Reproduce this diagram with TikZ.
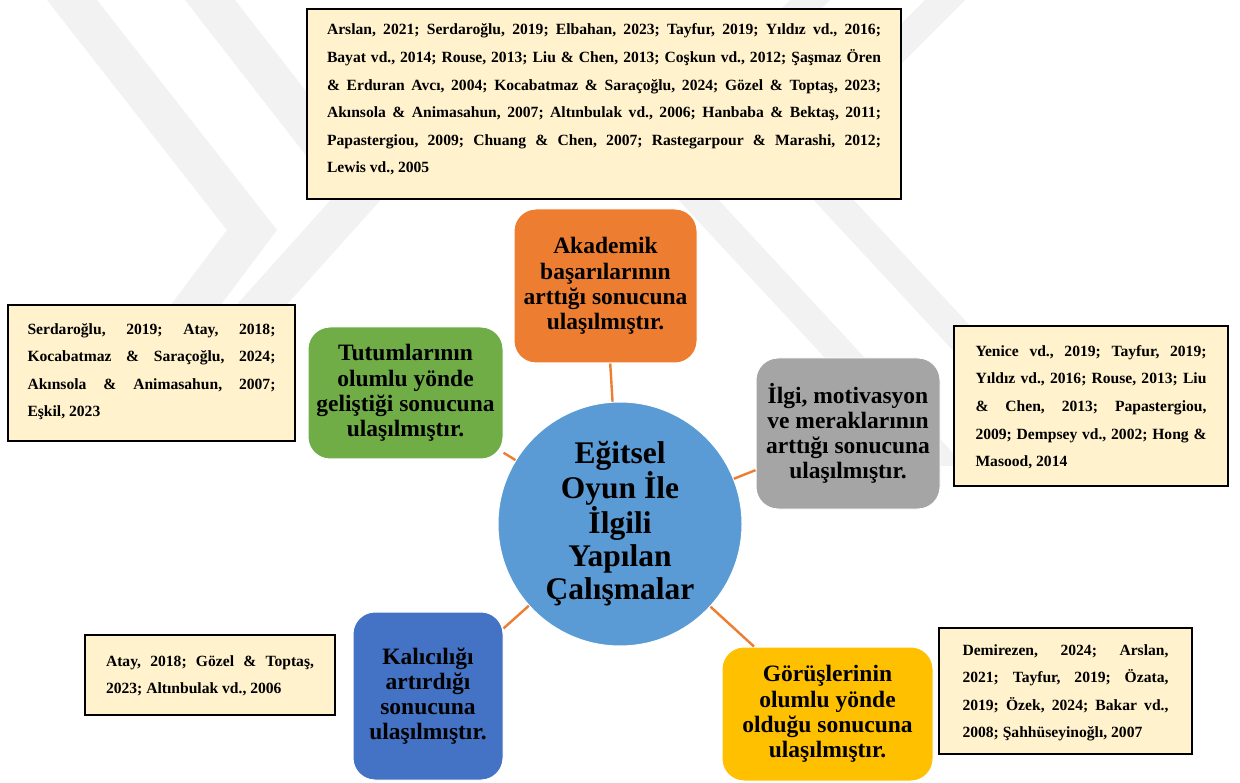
\documentclass[tikz,border=0pt]{standalone}
\usepackage{fontspec}
\setmainfont{Liberation Serif}
\definecolor{cream}{RGB}{255,242,204}
\definecolor{corange}{RGB}{237,125,49}
\definecolor{cgreen}{RGB}{112,173,71}
\definecolor{cgray}{RGB}{165,165,165}
\definecolor{cblue}{RGB}{68,114,196}
\definecolor{cyellow}{RGB}{255,192,0}
\definecolor{ccircle}{RGB}{91,155,213}
\definecolor{wm}{RGB}{242,242,242}
\newcommand\jl[2]{\makebox[#1][s]{#2}}
\newcommand\topstrut{\rule{0pt}{15pt}}
\newcommand\botstrut[1]{\rule[-#1pt]{0pt}{#1pt}}
\begin{document}
\begin{tikzpicture}[x=1pt,y=-1pt,
  refbox/.style={draw=black, line width=2.6pt, fill=cream, inner sep=0pt,
    align=left, font=\bfseries\frenchspacing\fontsize{15.6}{27.6}\selectfont,
    execute at begin node={\spaceskip=0.25em plus 1em minus 0.03em\relax\xspaceskip=\spaceskip}},
  cbox/.style={rounded corners=22pt, draw=white, line width=1pt, inner sep=0pt,
    align=center, text=black, font=\bfseries\fontsize{23.5}{25.2}\selectfont,
    execute at begin node={\spaceskip=0.25em\relax\xspaceskip=\spaceskip}},
  conn/.style={draw=corange, line width=2.4pt},
  wmark/.style={fill=wm, draw=none}]
\useasboundingbox (0,0) rectangle (1240,783);
\fill[white] (0,0) rectangle (1240,783);
% watermark
\fill[wmark] (47,0) -- (97,0) -- (277,230) -- (194.5,340) -- (144.5,340) -- (227,230) -- cycle;
\fill[wmark] (185,0) -- (235,0) -- (386,194) -- (255,340) -- (205,340) -- (336,194) -- cycle;
\fill[wmark] (925,0) -- (965,0) -- (811,154) -- (1100,466) -- (1060,466) -- (771,154) -- cycle;
\fill[wmark] (790,0) -- (830,0) -- (676,154) -- (965,466) -- (925,466) -- (636,154) -- cycle;
% reference boxes
\node[refbox, text width=554pt, minimum width=594pt, minimum height=190pt] (rtop) at (604,104)
 {\topstrut\jl{554pt}{Arslan, 2021; Serdaroğlu, 2019; Elbahan, 2023; Tayfur, 2019; Yıldız vd., 2016;}\\
  \jl{554pt}{Bayat vd., 2014; Rouse, 2013; Liu \& Chen, 2013; Coşkun vd., 2012; Şaşmaz Ören}\\
  \jl{554pt}{\& Erduran Avcı, 2004; Kocabatmaz \& Saraçoğlu, 2024; Gözel \& Toptaş, 2023;}\\
  \jl{554pt}{Akınsola \& Animasahun, 2007; Altınbulak vd., 2006; Hanbaba \& Bektaş, 2011;}\\
  \jl{554pt}{Papastergiou, 2009; Chuang \& Chen, 2007; Rastegarpour \& Marashi, 2012;}\\
  Lewis vd., 2005\botstrut{15}};
\node[refbox, text width=248pt, minimum width=287pt, minimum height=136pt] (rleft) at (151.5,373)
 {\topstrut\jl{248pt}{Serdaroğlu, 2019; Atay, 2018;}\\
  \jl{248pt}{Kocabatmaz \& Saraçoğlu, 2024;}\\
  \jl{248pt}{Akınsola \& Animasahun, 2007;}\\
  Eşkil, 2023\botstrut{10}};
\node[refbox, text width=231pt, minimum width=274pt, minimum height=160pt] (rright) at (1091,406)
 {\topstrut\jl{231pt}{Yenice vd., 2019; Tayfur, 2019;}\\
  \jl{231pt}{Yıldız vd., 2016; Rouse, 2013; Liu}\\
  \jl{231pt}{\& Chen, 2013; Papastergiou,}\\
  \jl{231pt}{2009; Dempsey vd., 2002; Hong \&}\\
  Masood, 2014\botstrut{4}};
\node[refbox, text width=208pt, minimum width=250pt, minimum height=80pt] (rbl) at (210,675)
 {\topstrut\jl{208pt}{Atay, 2018; Gözel \& Toptaş,}\\
  2023; Altınbulak vd., 2006\botstrut{5}};
\node[refbox, text width=206pt, minimum width=253pt, minimum height=126pt] (rbr) at (1065.5,691)
 {\topstrut\jl{206pt}{Demirezen, 2024; Arslan,}\\
  \jl{206pt}{2021; Tayfur, 2019; Özata,}\\
  \jl{206pt}{2019; Özek, 2024; Bakar vd.,}\\
  2008; Şahhüseyinoğlı, 2007\botstrut{4}};
% centre
\node[circle, fill=ccircle, draw=white, line width=1pt, minimum size=244pt, inner sep=0pt,
  align=center, font=\bfseries\fontsize{31.5}{33}\selectfont,
  execute at begin node={\spaceskip=0.25em\relax}] (c) at (620,524)
 {Eğitsel\\Oyun İle\\İlgili\\Yapılan\\Çalışmalar};
% coloured boxes
\node[cbox, fill=corange, minimum width=183pt, minimum height=154pt] (orange) at (605.5,286)
 {Akademik\\başarılarının\\arttığı sonucuna\\ulaşılmıştır.};
\node[cbox, fill=cgreen, minimum width=195pt, minimum height=132pt] (green) at (405.5,393)
 {Tutumlarının\\olumlu yönde\\geliştiği sonucuna\\ulaşılmıştır.};
\node[cbox, fill=cgray, minimum width=184pt, minimum height=151pt] (grey) at (848,433.5)
 {İlgi, motivasyon\\ve meraklarının\\arttığı sonucuna\\ulaşılmıştır.};
\node[cbox, fill=cblue, minimum width=150pt, minimum height=168pt] (blue) at (428,696)
 {Kalıcılığı\\artırdığı\\sonucuna\\ulaşılmıştır.};
\node[cbox, fill=cyellow, minimum width=211pt, minimum height=134pt] (yellow) at (827.5,714)
 {Görüşlerinin\\olumlu yönde\\olduğu sonucuna\\ulaşılmıştır.};
% connectors
\draw[conn] (c) -- (orange);
\draw[conn] (c) -- (green);
\draw[conn] (c) -- (grey);
\draw[conn] (c) -- (blue);
\draw[conn] (c) -- (yellow);
\end{tikzpicture}
\end{document}
